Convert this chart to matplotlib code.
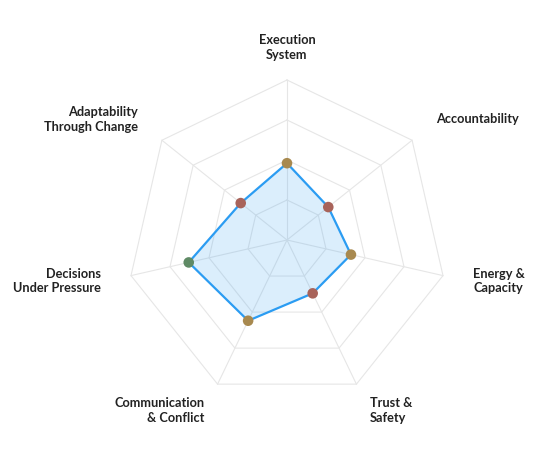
import numpy as np
import matplotlib
matplotlib.use("Agg")
import matplotlib.pyplot as plt

# 軸ラベルと値
labels = ["Execution\nSystem", "Accountability", "Energy &\nCapacity", "Trust &\nSafety",
          "Communication\n& Conflict", "Decisions\nUnder Pressure", "Adaptability\nThrough Change"]
values = [48, 33, 41, 37, 56, 63, 37]
rings = [25, 50, 75, 100]
max_val = 100


def score_color(v):
    # 値によって点の色を変える
    if v < 40:
        return "#a8635a"
    if v < 60:
        return "#a8894f"
    return "#5f8a65"


n = len(labels)
ang = np.pi / 2 - np.arange(n) * 2 * np.pi / n   # 上から時計回り
ux, uy = np.cos(ang), np.sin(ang)

px = 1.6   # 1単位あたりのピクセル
fig = plt.figure(figsize=(5.56, 4.64), dpi=100)
ax = fig.add_axes([0, 0, 1, 1])
ax.set_xlim(-287 / px, (556 - 287) / px)
ax.set_ylim(-(464 - 241) / px, 241 / px)
ax.axis("off")

# グリッド（七角形と放射線）
grid_c = "#e6e6e6"
for r in rings:
    xs = np.append(ux * r, ux[0] * r)
    ys = np.append(uy * r, uy[0] * r)
    ax.plot(xs, ys, color=grid_c, lw=0.8, zorder=1)
for i in range(n):
    ax.plot([0, ux[i] * max_val], [0, uy[i] * max_val], color=grid_c, lw=0.8, zorder=1)

# データ
v = np.array(values, dtype=float)
dx, dy = ux * v, uy * v
ax.fill(dx, dy, color="#2b9cf2", alpha=0.17, lw=0, zorder=2)
ax.plot(np.append(dx, dx[0]), np.append(dy, dy[0]), color="#2b9cf2", lw=1.6, zorder=3)
ax.scatter(dx, dy, s=58, c=[score_color(x) for x in values], zorder=4, linewidths=0)

# ラベル
lab_r = 191 / px
for i in range(n):
    lx, ly = ux[i] * lab_r, uy[i] * lab_r + 2.5 / px
    if abs(ux[i]) < 1e-6:
        ha = "center"
    elif ux[i] > 0:
        ha = "left"
    else:
        ha = "right"
    ax.text(lx, ly, labels[i], ha=ha, va="center", multialignment=ha,
            fontsize=9.2, fontweight="bold", family=["Lato", "DejaVu Sans"],
            color="#222222", linespacing=1.25)

fig.savefig("out.png", dpi=100)
